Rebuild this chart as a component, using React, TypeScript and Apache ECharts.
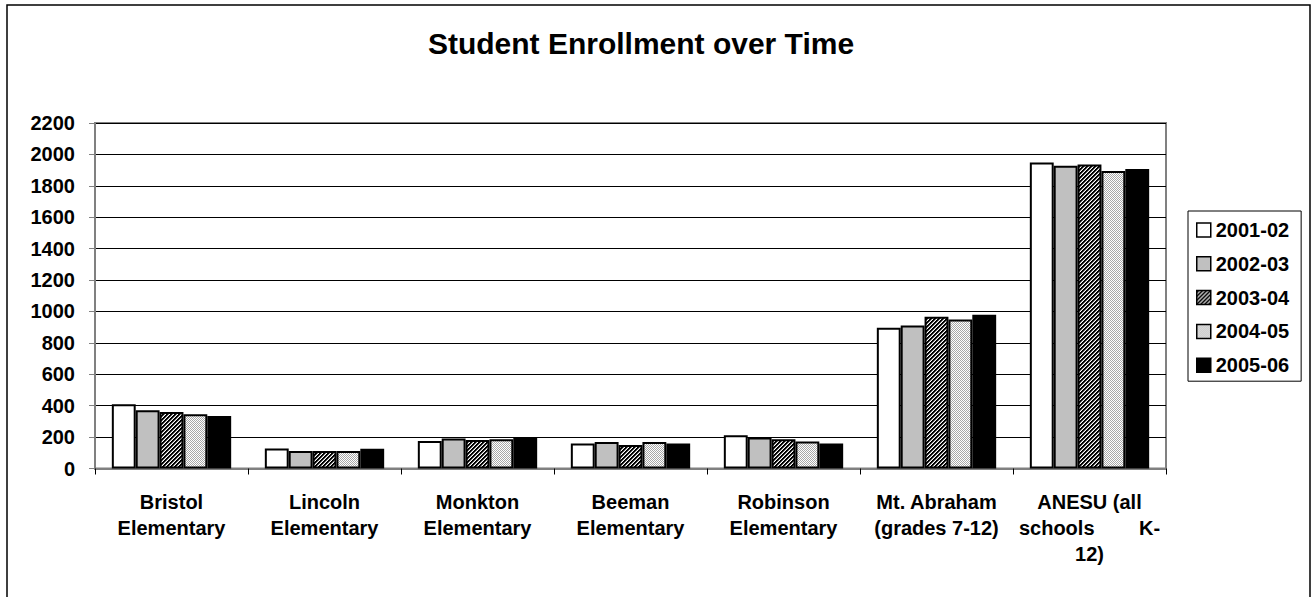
import React, { useEffect, useRef } from "react";
import * as echarts from "echarts";

const categories = [
  "Bristol\nElementary",
  "Lincoln\nElementary",
  "Monkton\nElementary",
  "Beeman\nElementary",
  "Robinson\nElementary",
  "Mt. Abraham\n(grades 7-12)",
  "ANESU (all\nschools        K-\n12)",
];
const seriesNames = ["2001-02", "2002-03", "2003-04", "2004-05", "2005-06"];
const y2001 = [409, 127, 175, 159, 212, 896, 1949];
const y2002 = [371, 112, 191, 169, 197, 911, 1928];
const y2003 = [360, 112, 182, 150, 186, 966, 1936];
const y2004 = [345, 112, 186, 169, 172, 949, 1895];
const y2005 = [334, 125, 195, 159, 159, 979, 1907];
const yTicks = { min: 0, max: 2200, interval: 200 };
const titleText = "Student Enrollment over Time";

function makePattern(kind: "hatch" | "dots"): string {
  const c = document.createElement("canvas");
  c.width = 4;
  c.height = 4;
  const ctx = c.getContext("2d")!;
  ctx.fillStyle = "#ffffff";
  ctx.fillRect(0, 0, 4, 4);
  for (let x = 0; x < 4; x++) {
    for (let y = 0; y < 4; y++) {
      if (kind === "hatch") {
        if ((x + y) % 4 < 2) {
          ctx.fillStyle = "#000000";
          ctx.fillRect(x, y, 1, 1);
        } else if ((x + y) % 4 === 2) {
          ctx.fillStyle = "#808080";
          ctx.fillRect(x, y, 1, 1);
        }
      } else {
        if ((x + y) % 2 === 0) {
          ctx.fillStyle = "#a8a8a8";
          ctx.fillRect(x, y, 1, 1);
        }
      }
    }
  }
  return c.toDataURL();
}

export default function App() {
  const ref = useRef<HTMLDivElement>(null);
  useEffect(() => {
    if (!ref.current) return;
    const chart = echarts.init(ref.current, null, { renderer: "svg" });
    const hatch = { image: makePattern("hatch"), repeat: "repeat" };
    const dots = { image: makePattern("dots"), repeat: "repeat" };
    const fills: any[] = ["#ffffff", "#c0c0c0", hatch, dots, "#000000"];
    const data = [y2001, y2002, y2003, y2004, y2005];
    const font = "'Liberation Sans', Arial, sans-serif";
    chart.setOption({
      animation: false,
      backgroundColor: "#ffffff",
      textStyle: { fontFamily: font },
      title: {
        text: titleText,
        left: 641,
        top: 28,
        textAlign: "center",
        padding: 0,
        textStyle: { fontSize: 30, fontWeight: "bold", color: "#000", fontFamily: font },
      },
      graphic: [
        {
          type: "rect",
          shape: { x: 7, y: 5, width: 1303, height: 600 },
          style: { fill: "none", stroke: "#000", lineWidth: 1.5 },
          silent: true,
        },
      ],
      legend: {
        orient: "vertical",
        left: 1188,
        top: 211,
        padding: [9, 12, 6, 8],
        itemGap: 13.8,
        itemWidth: 14,
        itemHeight: 14,
        icon: "rect",
        borderColor: "#000",
        borderWidth: 1,
        data: seriesNames,
        itemStyle: { borderColor: "#000", borderWidth: 1.5 },
        textStyle: { fontSize: 20, fontWeight: "bold", color: "#000", lineHeight: 20, fontFamily: font },
      },
      grid: { left: 95, right: 145, top: 123, bottom: 128.5, show: true, borderColor: "#808080", borderWidth: 2 },
      xAxis: {
        type: "category",
        data: categories,
        axisLine: { lineStyle: { color: "#808080", width: 2 } },
        axisTick: { show: true, length: 6, lineStyle: { color: "#000", width: 1 } },
        axisLabel: {
          interval: 0,
          margin: 20,
          color: "#000",
          fontSize: 20,
          fontWeight: "bold",
          lineHeight: 26,
          fontFamily: font,
        },
      },
      yAxis: {
        type: "value",
        min: yTicks.min,
        max: yTicks.max,
        interval: yTicks.interval,
        axisLine: { show: true, lineStyle: { color: "#808080", width: 2 } },
        axisTick: { show: true, length: 6, lineStyle: { color: "#808080", width: 1 } },
        axisLabel: {
          margin: 20,
          color: "#000",
          fontSize: 20,
          fontWeight: "bold",
          fontFamily: font,
          formatter: (v: number) => String(v),
        },
        splitLine: { show: true, lineStyle: { color: "#000", width: 1 } },
      },
      series: seriesNames.map((name, i) => ({
        name,
        type: "bar",
        data: data[i],
        barGap: "0%",
        barCategoryGap: "22%",
        itemStyle: { color: fills[i], borderColor: "#000", borderWidth: 2 },
      })),
    });
    return () => chart.dispose();
  }, []);
  return (
    <div
      ref={ref}
      style={{ position: "absolute", left: 0, top: 0, width: 1311, height: 597 }}
    />
  );
}
